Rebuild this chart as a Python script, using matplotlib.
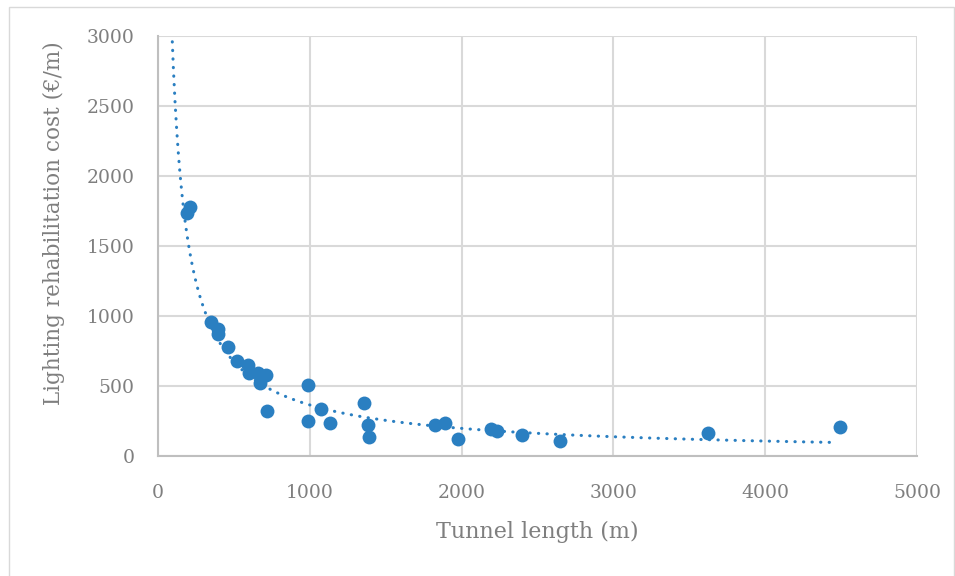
"""
Lighting rehabilitation cost vs tunnel length, with power trendline.
"""
import numpy as np
import matplotlib
matplotlib.use('Agg')
import matplotlib.pyplot as plt
from matplotlib.patches import Rectangle

# tunnel length (m) and lighting rehabilitation cost (EUR/m)
tunnel_length = [191, 211, 349, 393, 393, 459, 523, 591, 599, 661, 711, 672,
                 720, 986, 986, 1077, 1131, 1357, 1381, 1392, 1827, 1894,
                 1976, 2194, 2235, 2395, 2648, 3625, 4493]
cost = [1736, 1779, 959, 907, 869, 776, 679, 650, 595, 595, 579, 524,
        324, 507, 252, 336, 233, 381, 221, 136, 221, 238,
        124, 195, 179, 150, 107, 167, 207]

x_ticks = [0, 1000, 2000, 3000, 4000, 5000]
y_ticks = [0, 500, 1000, 1500, 2000, 2500, 3000]

BLUE = '#2a7fc1'
GREY_TXT = '#7f7f7f'

plt.rcParams.update({
    'font.family': ['DejaVu Serif'],
    'font.size': 14,
})


def main():
    fig = plt.figure(figsize=(9.55, 5.76), dpi=100)
    ax = fig.add_axes([0.1654, 0.2083, 0.7948, 0.7292])

    # outer frame like the spreadsheet chart area
    fig.patches.append(Rectangle((9 / 955, -0.01), 945 / 955, 1 - 7 / 576 + 0.01,
                                 transform=fig.transFigure, fill=False,
                                 edgecolor='#d9d9d9', lw=1.0))

    ax.scatter(tunnel_length, cost, s=100, color=BLUE, zorder=4, linewidths=0)

    # power trendline y = a * x^b (least squares in log space)
    b, ln_a = np.polyfit(np.log(tunnel_length), np.log(cost), 1)
    xs = np.linspace(80, 4450, 400)
    ax.plot(xs, np.exp(ln_a) * xs ** b, color=BLUE, lw=2.2,
            linestyle=(0, (0.1, 2.7)), dash_capstyle='round', zorder=3)

    ax.set_xlim(0, 5000)
    ax.set_ylim(0, 3000)
    ax.set_xticks(x_ticks)
    ax.set_yticks(y_ticks)
    ax.grid(True, color='#d9d9d9', lw=1.5)
    ax.set_axisbelow(True)
    for side in ('top', 'right'):
        ax.spines[side].set_visible(False)
    for side in ('left', 'bottom'):
        ax.spines[side].set_color('#bfbfbf')
        ax.spines[side].set_linewidth(1.5)
    ax.tick_params(length=0, labelcolor=GREY_TXT, labelsize=13.5)
    ax.tick_params(axis='x', pad=20)
    ax.tick_params(axis='y', pad=17)

    ax.set_xlabel('Tunnel length (m)', color=GREY_TXT, fontsize=16, labelpad=14)
    ax.set_ylabel('Lighting rehabilitation cost (€/m)', color=GREY_TXT,
                  fontsize=15.5)
    ax.yaxis.set_label_coords(-0.122, 0.555)

    fig.savefig('out.png', dpi=100)
    plt.close(fig)


if __name__ == '__main__':
    main()
